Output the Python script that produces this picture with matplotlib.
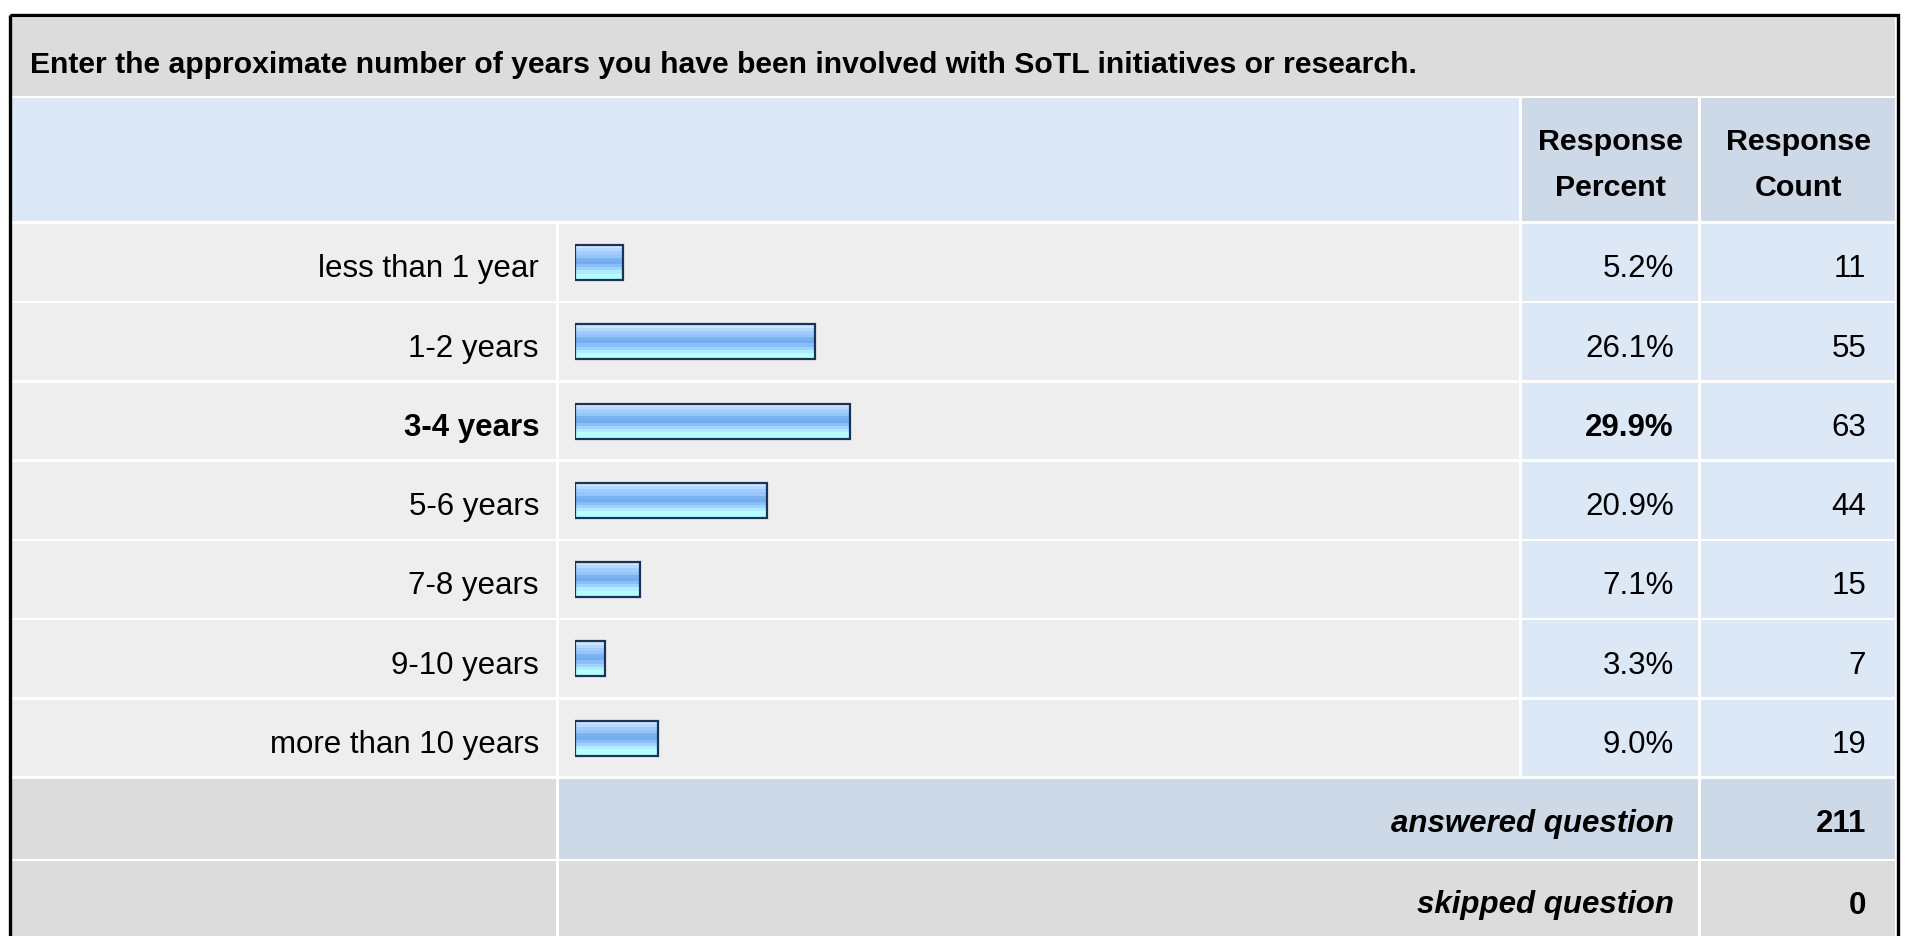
import matplotlib
matplotlib.use("Agg")
import matplotlib.pyplot as plt
from matplotlib.patches import Rectangle
import numpy as np

W, H = 1909, 936
DPI = 100

TITLE = "Enter the approximate number of years you have been involved with SoTL initiatives or research."
HEADERS = ["Response\nPercent", "Response\nCount"]
CATEGORIES = ["less than 1 year", "1-2 years", "3-4 years", "5-6 years",
              "7-8 years", "9-10 years", "more than 10 years"]
PERCENTS = [5.2, 26.1, 29.9, 20.9, 7.1, 3.3, 9.0]
COUNTS = [11, 55, 63, 44, 15, 7, 19]
ANSWERED = 211
SKIPPED = 0

# colours
TITLE_BG = "#dcdcdc"
HEAD_BG = "#dce8f5"
HEAD_COL_BG = "#cdd9e6"
ROW_BG = "#eeeeee"
VAL_BG = "#dce8f5"
FOOT_BG = "#dcdcdc"
BAR_EDGE = "#1b3358"
BAR_STRIPES = ["#d0e4fb", "#b6d8fd", "#a0ccfe", "#94c5fd", "#7bb3f1", "#73adef",
               "#89bff6", "#a1d2fc", "#b0ecff", "#b6ffff", "#b6ffff"]

# layout in pixels (y from top)
X0, X1 = 12, 1895
COL_LABEL = (12, 556)
COL_BAR = (559, 1519)
COL_PCT = (1522, 1698)
COL_CNT = (1701, 1895)
TITLE_ROW = (18, 96)
HEAD_ROW = (98, 221)
DATA_TOP = 223.0
ROW_H = 79.25
ANS_ROW = (779, 859)
SKIP_ROW = (861, 940)
TXT_DY = 7  # baseline sits a little low in the cells

plt.rcParams["font.family"] = ["Liberation Sans", "DejaVu Sans"]
FS = 22.5
FS_TITLE = 21.7
FS_HEAD = 21.9

fig = plt.figure(figsize=(W / DPI, H / DPI), dpi=DPI)
fig.patch.set_facecolor("white")
ax = fig.add_axes([0, 0, 1, 1])
ax.set_xlim(0, W)
ax.set_ylim(H, 0)
ax.axis("off")


def cell(x, y, color):
    ax.add_patch(Rectangle((x[0], y[0]), x[1] - x[0], y[1] - y[0],
                           facecolor=color, edgecolor="none", zorder=1))


# outer frame
ax.add_patch(Rectangle((9.5, 14.5), 1888, 960, facecolor="none",
                       edgecolor="black", linewidth=2.4, zorder=3))

# title row
cell((X0, X1), TITLE_ROW, TITLE_BG)
ax.text(30, 65, TITLE, fontsize=FS_TITLE, fontweight="bold", ha="left", va="center", zorder=4)

# header row
cell((COL_LABEL[0], COL_BAR[1]), HEAD_ROW, HEAD_BG)
cell(COL_PCT, HEAD_ROW, HEAD_COL_BG)
cell(COL_CNT, HEAD_ROW, HEAD_COL_BG)
for col, head in zip([COL_PCT, COL_CNT], HEADERS):
    cx = (col[0] + col[1]) / 2
    for k, line in enumerate(head.split("\n")):
        ax.text(cx, 141.5 + 46 * k, line, fontsize=FS_HEAD, fontweight="bold",
                ha="center", va="center", zorder=4)

# data rows
imax = int(np.argmax(PERCENTS))
for i, (cat, p, c) in enumerate(zip(CATEGORIES, PERCENTS, COUNTS)):
    top = DATA_TOP + ROW_H * i + 1
    bot = DATA_TOP + ROW_H * (i + 1) - 1.5
    cy = (top + bot) / 2 + TXT_DY
    cell(COL_LABEL, (top, bot), ROW_BG)
    cell(COL_BAR, (top, bot), ROW_BG)
    cell(COL_PCT, (top, bot), VAL_BG)
    cell(COL_CNT, (top, bot), VAL_BG)
    w = "bold" if i == imax else "normal"
    ax.text(539, cy, cat, fontsize=FS, fontweight=w, ha="right", va="center", zorder=4)
    ax.text(1674, cy, f"{p:.1f}%", fontsize=FS, fontweight=w, ha="right", va="center", zorder=4)
    ax.text(1866, cy, str(c), fontsize=FS, ha="right", va="center", zorder=4)

# footer rows
cell(COL_LABEL, ANS_ROW, FOOT_BG)
cell((COL_BAR[0], COL_PCT[1]), ANS_ROW, HEAD_COL_BG)
cell(COL_CNT, ANS_ROW, HEAD_COL_BG)
cell(COL_LABEL, SKIP_ROW, FOOT_BG)
cell((COL_BAR[0], COL_PCT[1]), SKIP_ROW, FOOT_BG)
cell(COL_CNT, SKIP_ROW, FOOT_BG)
for row, label, val, dy in [(ANS_ROW, "answered question", ANSWERED, 5),
                            (SKIP_ROW, "skipped question", SKIPPED, 5)]:
    cy = (row[0] + row[1]) / 2 + dy
    ax.text(1674, cy, label, fontsize=FS, fontweight="bold", fontstyle="italic",
            ha="right", va="center", zorder=4)
    ax.text(1866, cy, str(val), fontsize=FS, fontweight="bold",
            ha="right", va="center", zorder=4)

# bar axes: x in percent, y in category index
bar_top = DATA_TOP
bar_bot = DATA_TOP + ROW_H * len(CATEGORIES)
bx0, bw = 575, 920
bax = fig.add_axes([bx0 / W, 1 - bar_bot / H, bw / W, (bar_bot - bar_top) / H])
bax.set_xlim(0, 100)
bax.set_ylim(len(CATEGORIES) - 0.5, -0.5)
bax.axis("off")
bax.patch.set_alpha(0)

y = np.arange(len(CATEGORIES))
bh = 0.44
n = len(BAR_STRIPES)
sh = bh / n
for k, col in enumerate(BAR_STRIPES):
    bax.barh(y - bh / 2 + (k + 0.5) * sh, PERCENTS, height=sh * 1.05, left=0,
             color=col, linewidth=0, zorder=2)
bax.barh(y, PERCENTS, height=bh, left=0, fill=False, edgecolor=BAR_EDGE,
         linewidth=1.6, zorder=3)

fig.savefig("out.png", dpi=DPI)
